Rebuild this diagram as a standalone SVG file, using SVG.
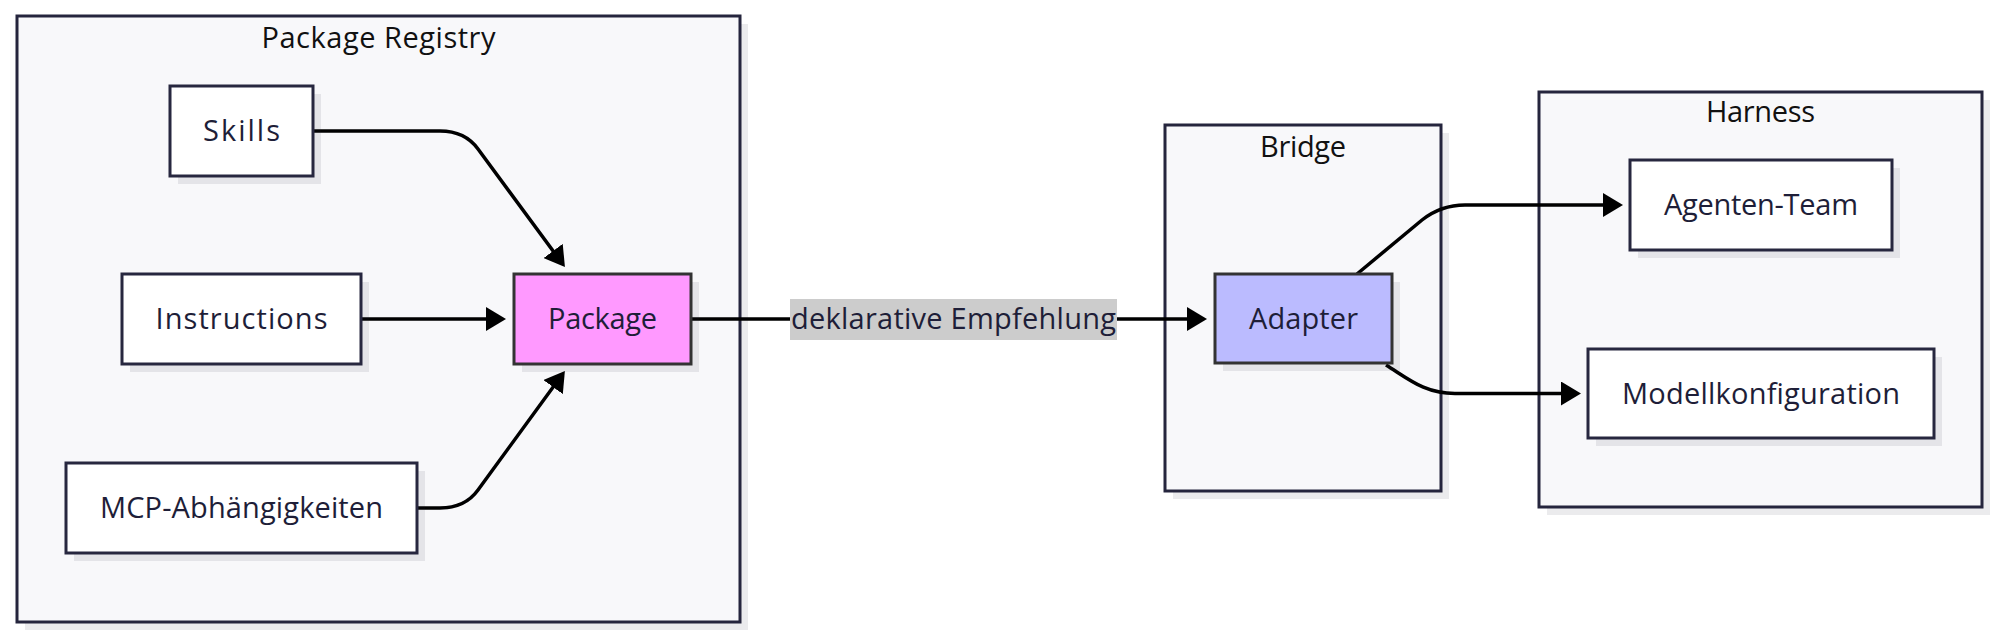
<svg xmlns="http://www.w3.org/2000/svg" width="2000" height="639" viewBox="0 0 2000 639">
<defs>
<style>
.cluster{fill:#f8f8fa;stroke:#25253d;stroke-width:3}
.shadow{fill:#1e1e3c;fill-opacity:0.09}
.node{fill:#ffffff;stroke:#27273f;stroke-width:3}
.pkg{fill:#ff99ff;stroke:#333333;stroke-width:3}
.adp{fill:#bbbbff;stroke:#333333;stroke-width:3}
.title{font-family:"Open Sans","Noto Sans",sans-serif;font-size:29px;fill:#111111;text-anchor:middle}
.label{font-family:"Open Sans","Noto Sans",sans-serif;font-size:29px;fill:#1e1e38;text-anchor:middle}
.edge{fill:none;stroke:#000000;stroke-width:3.5}
.elbg{fill:#cccccc}
</style>
<marker id="arrow" markerUnits="userSpaceOnUse" markerWidth="20" markerHeight="24" refX="10" refY="12" orient="auto" viewBox="0 0 20 24">
<path d="M0,0 L20,12 L0,24 z" fill="#000000"/>
</marker>
</defs>
<rect width="2000" height="639" fill="#ffffff"/>

<g id="cluster-registry">
<rect class="shadow" x="25" y="24" width="723" height="606"/>
<rect class="cluster" x="17" y="16" width="723" height="606"/>
<text class="title" x="378.5" y="48" textLength="234" lengthAdjust="spacing">Package Registry</text>
</g>
<g id="cluster-bridge">
<rect class="shadow" x="1173" y="133" width="276" height="366"/>
<rect class="cluster" x="1165" y="125" width="276" height="366"/>
<text class="title" x="1303" y="157" textLength="86" lengthAdjust="spacing">Bridge</text>
</g>
<g id="cluster-harness">
<rect class="shadow" x="1547" y="100" width="443" height="415"/>
<rect class="cluster" x="1539" y="92" width="443" height="415"/>
<text class="title" x="1760.5" y="122" textLength="109" lengthAdjust="spacing">Harness</text>
</g>

<g id="connectors">
<path class="edge" d="M313,131 L440,131 Q465,131 478,149 L559,259" marker-end="url(#arrow)"/>
<path class="edge" d="M361,319 L496,319" marker-end="url(#arrow)"/>
<path class="edge" d="M417,508 L440,508 Q465,508 478,490 L559,379" marker-end="url(#arrow)"/>
<path class="edge" d="M691,319 L1197,319" marker-end="url(#arrow)"/>
<path class="edge" d="M1357,274 L1422,220 Q1441,205 1465,205 L1613,205" marker-end="url(#arrow)"/>
<path class="edge" d="M1386,365 C1410,380 1425,393.5 1455,393.5 L1571,393.5" marker-end="url(#arrow)"/>
<g id="edge-label">
<rect class="elbg" x="790" y="299" width="327" height="41"/>
<text class="label" x="953.5" y="329" textLength="325" lengthAdjust="spacing">deklarative Empfehlung</text>
</g>
</g>

<g id="node-skills">
<rect class="shadow" x="178" y="94" width="143" height="90"/>
<rect class="node" x="170" y="86" width="143" height="90"/>
<text class="label" x="241.5" y="141" textLength="77" lengthAdjust="spacing">Skills</text>
</g>
<g id="node-instructions">
<rect class="shadow" x="130" y="282" width="239" height="90"/>
<rect class="node" x="122" y="274" width="239" height="90"/>
<text class="label" x="241.5" y="329" textLength="172" lengthAdjust="spacing">Instructions</text>
</g>
<g id="node-mcp">
<rect class="shadow" x="74" y="471" width="351" height="90"/>
<rect class="node" x="66" y="463" width="351" height="90"/>
<text class="label" x="241.5" y="518" textLength="283" lengthAdjust="spacing">MCP-Abhängigkeiten</text>
</g>
<g id="node-package">
<rect class="shadow" x="522" y="282" width="177" height="90"/>
<rect class="pkg" x="514" y="274" width="177" height="90"/>
<text class="label" x="602.5" y="329" textLength="109" lengthAdjust="spacing">Package</text>
</g>
<g id="node-adapter">
<rect class="shadow" x="1223" y="282" width="177" height="89"/>
<rect class="adp" x="1215" y="274" width="177" height="89"/>
<text class="label" x="1303.5" y="329" textLength="109" lengthAdjust="spacing">Adapter</text>
</g>
<g id="node-agenten">
<rect class="shadow" x="1638" y="168" width="262" height="90"/>
<rect class="node" x="1630" y="160" width="262" height="90"/>
<text class="label" x="1761" y="215" textLength="194" lengthAdjust="spacing">Agenten-Team</text>
</g>
<g id="node-modell">
<rect class="shadow" x="1596" y="357" width="346" height="89"/>
<rect class="node" x="1588" y="349" width="346" height="89"/>
<text class="label" x="1761" y="403.5" textLength="278" lengthAdjust="spacing">Modellkonfiguration</text>
</g>
</svg>
